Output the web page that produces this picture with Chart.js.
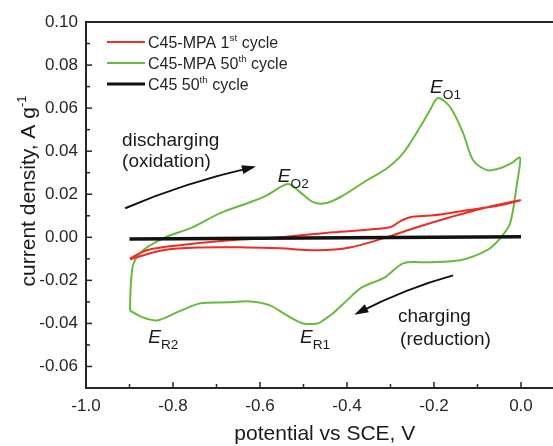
<!DOCTYPE html>
<html>
<head>
<meta charset="utf-8">
<script src="https://cdn.jsdelivr.net/npm/chart.js@4.4.1/dist/chart.umd.min.js"></script>
<style>
  html, body { margin: 0; padding: 0; background: #fff; }
  canvas { display: block; }
</style>
</head>
<body>
<canvas id="cv" width="553" height="446"></canvas>
<script>
  // potential (V vs SCE) and current density (A/g)
  var greenV = [-0.899, -0.897, -0.892, -0.880, -0.860, -0.818, -0.754, -0.692, -0.623, -0.584,
    -0.536, -0.508, -0.478, -0.451, -0.416, -0.354, -0.308, -0.271, -0.232, -0.209,
    -0.191, -0.163, -0.133, -0.110, -0.078, -0.048, -0.018, -0.003, -0.002, -0.009,
    -0.025, -0.048, -0.078, -0.140, -0.216, -0.271, -0.313, -0.366, -0.400, -0.432,
    -0.455, -0.467, -0.501, -0.538, -0.577, -0.623, -0.676, -0.738, -0.791, -0.837,
    -0.869, -0.899];
  var greenI = [-0.034, -0.0223, -0.013, -0.0084, -0.0047, 0.0, 0.0047, 0.0112, 0.0163, 0.0195,
    0.0247, 0.021, 0.0163, 0.0158, 0.0186, 0.0265, 0.0321, 0.0391, 0.0512, 0.0591,
    0.0647, 0.0605, 0.0484, 0.0358, 0.0312, 0.0321, 0.0349, 0.0372, 0.0349, 0.0251,
    0.0065, -0.0005, -0.006, -0.0107, -0.0116, -0.0121, -0.0186, -0.0233, -0.0293, -0.0353,
    -0.0386, -0.040, -0.040, -0.0363, -0.0316, -0.0298, -0.0302, -0.0307, -0.0349, -0.0386,
    -0.0372, -0.034];

  var redV = [-0.899, -0.860, -0.784, -0.669, -0.554, -0.432, -0.301, -0.278, -0.255, -0.202,
    -0.124, -0.048, -0.002, -0.087, -0.163, -0.239, -0.317, -0.393, -0.469, -0.554,
    -0.630, -0.745, -0.823, -0.899];
  var redI = [-0.0098, -0.006, -0.0037, -0.0014, 0.0, 0.0023, 0.0047, 0.0074, 0.0093, 0.0102,
    0.0126, 0.0149, 0.0172, 0.0135, 0.0093, 0.0047, -0.0005, -0.0047, -0.006, -0.0051,
    -0.0047, -0.0047, -0.006, -0.0102];

  var blackV = [-0.9, -0.6, -0.3, 0.0];
  var blackI = [-0.0008, -0.0004, -0.0001, 0.0002];

  var xTicks = [-1.0, -0.8, -0.6, -0.4, -0.2, 0.0];
  var yTicks = [-0.06, -0.04, -0.02, 0.0, 0.02, 0.04, 0.06, 0.08, 0.10];

  var FONT = '"Liberation Sans", Arial, sans-serif';
  var INK = '#262626';
  var RED = '#ee2b24';
  var GREEN = '#66bb3c';

  function pts(xs, ys) {
    return xs.map(function (x, i) { return { x: x, y: ys[i] }; });
  }

  // text with super/subscripts: parts = [[text, kind]], kind '', 'sup', 'sub', 'it'
  function rich(ctx, x, y, parts, size) {
    var cx = x;
    parts.forEach(function (p) {
      var s = size, dy = 0, style = '';
      if (p[1] === 'sup') { s = size * 0.62; dy = -size * 0.42; }
      if (p[1] === 'sub') { s = size * 0.72; dy = size * 0.3; }
      if (p[1] === 'it') { style = 'italic '; }
      ctx.font = style + s + 'px ' + FONT;
      ctx.fillText(p[0], cx, y + dy);
      cx += ctx.measureText(p[0]).width;
    });
    return cx - x;
  }

  function richWidth(ctx, parts, size) {
    var w = 0;
    parts.forEach(function (p) {
      var s = size;
      if (p[1] === 'sup') s = size * 0.62;
      if (p[1] === 'sub') s = size * 0.72;
      ctx.font = (p[1] === 'it' ? 'italic ' : '') + s + 'px ' + FONT;
      w += ctx.measureText(p[0]).width;
    });
    return w;
  }

  function arrow(ctx, x0, y0, cx, cy, x1, y1) {
    ctx.beginPath();
    ctx.moveTo(x0, y0);
    ctx.quadraticCurveTo(cx, cy, x1, y1);
    ctx.stroke();
    var a = Math.atan2(y1 - cy, x1 - cx);
    var L = 11, W = 4.5;
    ctx.beginPath();
    ctx.moveTo(x1 + Math.cos(a) * 3, y1 + Math.sin(a) * 3);
    ctx.lineTo(x1 - Math.cos(a) * L - Math.sin(a) * W, y1 - Math.sin(a) * L + Math.cos(a) * W);
    ctx.lineTo(x1 - Math.cos(a) * L + Math.sin(a) * W, y1 - Math.sin(a) * L - Math.cos(a) * W);
    ctx.closePath();
    ctx.fill();
  }

  var decor = {
    id: 'decor',
    afterDraw: function (chart) {
      var ctx = chart.ctx, xs = chart.scales.x, ys = chart.scales.y, a = chart.chartArea;
      var X = function (v) { return xs.getPixelForValue(v); };
      var Y = function (v) { return ys.getPixelForValue(v); };
      ctx.save();
      ctx.strokeStyle = INK;
      ctx.fillStyle = INK;

      // top frame line
      ctx.lineWidth = 2;
      ctx.beginPath();
      ctx.moveTo(a.left, a.top);
      ctx.lineTo(a.right, a.top);
      ctx.stroke();

      // inward ticks
      ctx.lineWidth = 1.5;
      var v, k;
      for (k = -10; k <= 1; k++) {
        v = k / 10;
        var len = (k % 2 === 0) ? 6 : 4;
        ctx.beginPath();
        ctx.moveTo(X(v), a.bottom);
        ctx.lineTo(X(v), a.bottom - len);
        ctx.stroke();
      }
      for (k = -7; k <= 10; k++) {
        v = k / 100;
        var l2 = (k % 2 === 0) ? 6 : 4;
        ctx.beginPath();
        ctx.moveTo(a.left, Y(v));
        ctx.lineTo(a.left + l2, Y(v));
        ctx.stroke();
      }

      // legend
      var rows = [
        [RED, 2, [['C45-MPA 1', ''], ['st', 'sup'], [' cycle', '']]],
        [GREEN, 2, [['C45-MPA 50', ''], ['th', 'sup'], [' cycle', '']]],
        ['#111', 3, [['C45 50', ''], ['th', 'sup'], [' cycle', '']]]
      ];
      ctx.textBaseline = 'alphabetic';
      ctx.textAlign = 'left';
      rows.forEach(function (r, i) {
        var cy = 42 + i * 21;
        ctx.strokeStyle = r[0];
        ctx.lineWidth = r[1];
        ctx.beginPath();
        ctx.moveTo(107, cy);
        ctx.lineTo(145, cy);
        ctx.stroke();
        ctx.fillStyle = INK;
        rich(ctx, 148, cy + 5.5, r[2], 16);
      });

      // peak labels
      ctx.fillStyle = '#1a1a1a';
      rich(ctx, X(-0.209), Y(0.067), [['E', 'it'], ['O1', 'sub']], 19);
      rich(ctx, X(-0.559), Y(0.0256), [['E', 'it'], ['O2', 'sub']], 19);
      rich(ctx, X(-0.857), Y(-0.0493), [['E', 'it'], ['R2', 'sub']], 19);
      rich(ctx, X(-0.508), Y(-0.0493), [['E', 'it'], ['R1', 'sub']], 19);

      // sweep direction notes
      ctx.font = '19px ' + FONT;
      ctx.fillText('discharging', X(-0.917), Y(0.0423));
      ctx.fillText('(oxidation)', X(-0.917), Y(0.0326));
      ctx.fillText('charging', X(-0.283), Y(-0.0395));
      ctx.fillText('(reduction)', X(-0.278), Y(-0.0502));

      ctx.strokeStyle = '#111';
      ctx.fillStyle = '#111';
      ctx.lineWidth = 2;
      arrow(ctx, X(-0.910), Y(0.0135), X(-0.772), Y(0.0255), X(-0.616), Y(0.0326));
      arrow(ctx, X(-0.156), Y(-0.0177), X(-0.262), Y(-0.0235), X(-0.377), Y(-0.0353));

      // axis titles
      ctx.fillStyle = '#1a1a1a';
      var xt = [['potential vs SCE, V', '']];
      var wx = richWidth(ctx, xt, 21);
      rich(ctx, X(-0.451) - wx / 2, 440, xt, 21);

      var yt = [['current density, A g', ''], ['-1', 'sup']];
      var wy = richWidth(ctx, yt, 21);
      ctx.translate(35, 191);
      ctx.rotate(-Math.PI / 2);
      rich(ctx, -wy / 2, 0, yt, 21);
      ctx.restore();
    }
  };

  var tickFont = { family: FONT, size: 17 };

  new Chart(document.getElementById('cv').getContext('2d'), {
    type: 'scatter',
    data: {
      datasets: [
        {
          label: 'C45 50th cycle',
          data: pts(blackV, blackI),
          showLine: true,
          borderColor: '#111',
          borderWidth: 3.5,
          order: 0
        },
        {
          label: 'C45-MPA 1st cycle',
          data: pts(redV, redI),
          showLine: true,
          borderColor: RED,
          borderWidth: 2,
          tension: 0.3,
          order: 1
        },
        {
          label: 'C45-MPA 50th cycle',
          data: pts(greenV, greenI),
          showLine: true,
          borderColor: GREEN,
          borderWidth: 2,
          tension: 0.3,
          order: 2
        }
      ]
    },
    options: {
      responsive: false,
      animation: false,
      layout: { padding: { top: 22, right: 0, bottom: 0, left: 0 } },
      elements: { point: { radius: 0 } },
      plugins: {
        legend: { display: false },
        tooltip: { enabled: false }
      },
      scales: {
        x: {
          type: 'linear',
          min: -1.0,
          max: 0.0736,
          afterBuildTicks: function (s) {
            s.ticks = xTicks.map(function (v) { return { value: v }; });
          },
          afterFit: function (s) { s.height = 58; },
          grid: { drawOnChartArea: false, drawTicks: false },
          border: { color: INK, width: 2 },
          ticks: {
            color: INK,
            font: tickFont,
            padding: 8,
            maxRotation: 0,
            callback: function (v) { return Number(v).toFixed(1); }
          }
        },
        y: {
          type: 'linear',
          min: -0.07,
          max: 0.10,
          afterBuildTicks: function (s) {
            s.ticks = yTicks.map(function (v) { return { value: v }; });
          },
          afterFit: function (s) { s.width = 86; },
          grid: { drawOnChartArea: false, drawTicks: false },
          border: { color: INK, width: 2 },
          ticks: {
            color: INK,
            font: tickFont,
            padding: 8,
            callback: function (v) { return Number(v).toFixed(2); }
          }
        }
      }
    },
    plugins: [decor]
  });
</script>
</body>
</html>
